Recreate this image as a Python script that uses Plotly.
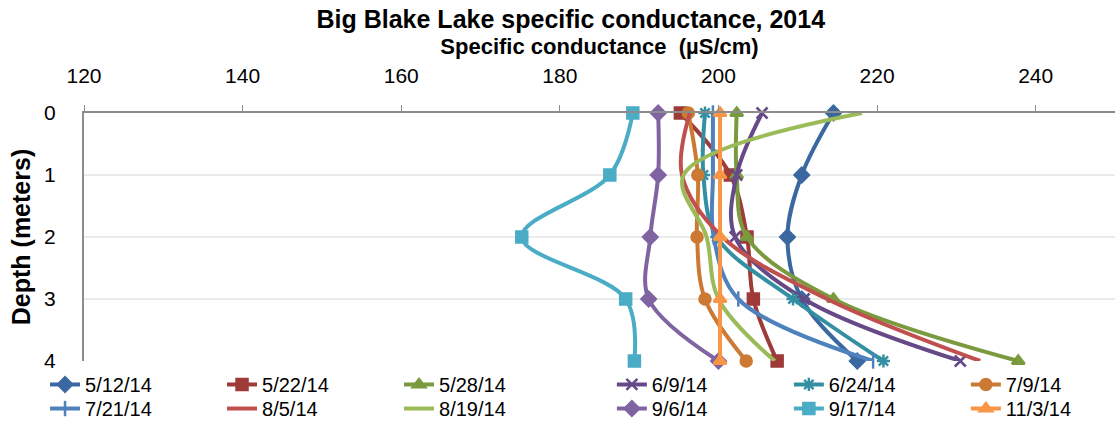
import plotly.graph_objects as go

# 深度（米）
depth = [0, 1, 2, 3, 4]

# 各采样日期的电导率 (µS/cm)
d0512 = [214.5, 210.5, 208.7, 210.5, 217.5]
d0522 = [195.2, 201.5, 203.6, 204.4, 207.4]
d0528 = [202.3, 202.3, 203.6, 214.5, 237.8]
d0609 = [205.5, 202.3, 202.1, 210.8, 230.5]
d0624 = [198.3, 198.1, 199.8, 209.4, 220.8]
d0709 = [196.2, 197.4, 197.3, 198.3, 203.5]
d0721 = [199.3, 199.3, 199.4, 202.5, 219.5]
d0805 = [196.4, 195.4, 200.5, 213.7, 233.0]
d0819 = [218.1, 195.6, 198.5, 200.0, 207.1]
d0906 = [192.4, 192.4, 191.4, 191.2, 200.0]
d0917 = [189.2, 186.3, 175.2, 188.3, 189.4]
d1103 = [200.2, 200.2, 200.2, 200.2, 200.2]

dates = ["5/12/14", "5/22/14", "5/28/14", "6/9/14", "6/24/14", "7/9/14",
         "7/21/14", "8/5/14", "8/19/14", "9/6/14", "9/17/14", "11/3/14"]
values = [d0512, d0522, d0528, d0609, d0624, d0709,
          d0721, d0805, d0819, d0906, d0917, d1103]

colors = ["#3B68A0", "#9E3B38", "#7B9A3F", "#664A88", "#348FA3", "#CC7A33",
          "#4F81BD", "#C0504D", "#9BBB59", "#8064A2", "#4BACC6", "#F79646"]
symbols = ["diamond", "square", "triangle-up", "x-thin", "asterisk", "circle",
           "line-ns", None, None, "diamond", "square", "triangle-up"]
# 图例分四块：上排左/右，下排左/右，每块一行三项
legend_of = ["legend"] * 3 + ["legend2"] * 3 + ["legend3"] * 3 + ["legend4"] * 3

FONT = "Liberation Sans, Arial"

fig = go.Figure()
for name, vals, c, s, lg in zip(dates, values, colors, symbols, legend_of):
    if s is None:
        mode = "lines"
        marker = None
    else:
        mode = "lines+markers"
        marker = dict(symbol=s, size=11, color=c,
                      line=dict(color=c, width=2.5))
    fig.add_trace(go.Scatter(
        x=vals, y=depth, name=name, mode=mode,
        line=dict(color=c, width=4, shape="spline"),
        marker=marker, cliponaxis=False, legend=lg,
    ))

fig.update_xaxes(
    side="top", range=[120, 250], dtick=20, tick0=120,
    showgrid=False, showline=True, linecolor="#8C8C8C", linewidth=2,
    ticks="outside", tickcolor="#8C8C8C", ticklen=6,
    tickfont=dict(size=21, family=FONT, color="#000"),
    ticklabelstandoff=14, automargin=False,
    title=dict(text="<b>Specific conductance  (µS/cm)</b>",
               font=dict(size=22, family=FONT, color="#000"), standoff=3),
    zeroline=False,
)
fig.update_yaxes(
    range=[4, 0], dtick=1, showgrid=True, gridcolor="#EBEBEB", gridwidth=2,
    showline=True, linecolor="#8C8C8C", linewidth=2,
    tickfont=dict(size=21, family=FONT, color="#000"),
    ticklabelstandoff=22, automargin=False,
    title=dict(text="<b>Depth (meters)</b>",
               font=dict(size=25, family=FONT, color="#000"), standoff=6),
    zeroline=False,
)

legend_common = dict(
    orientation="h", font=dict(size=20, family=FONT, color="#000"),
    entrywidth=132, entrywidthmode="pixels",
    xanchor="left", yanchor="top",
    bgcolor="rgba(0,0,0,0)", tracegroupgap=0,
)

fig.update_layout(
    width=1117, height=422,
    margin=dict(l=84, r=2, t=113, b=61, autoexpand=False),
    paper_bgcolor="white", plot_bgcolor="white",
    title=dict(text="<b>Big Blake Lake specific conductance, 2014</b>",
               x=0.511, xanchor="center", y=0.976, yanchor="top",
               font=dict(size=25, family=FONT, color="#000")),
    legend=dict(x=-0.0378, y=-0.016, **legend_common),
    legend2=dict(x=0.512, y=-0.016, **legend_common),
    legend3=dict(x=-0.0378, y=-0.113, **legend_common),
    legend4=dict(x=0.512, y=-0.113, **legend_common),
    showlegend=True,
)

# 去掉页面默认的 8px 边距，隐藏工具栏
fig.write_html("out.html", config={"displayModeBar": False},
               post_script="document.body.style.margin='0px';")
